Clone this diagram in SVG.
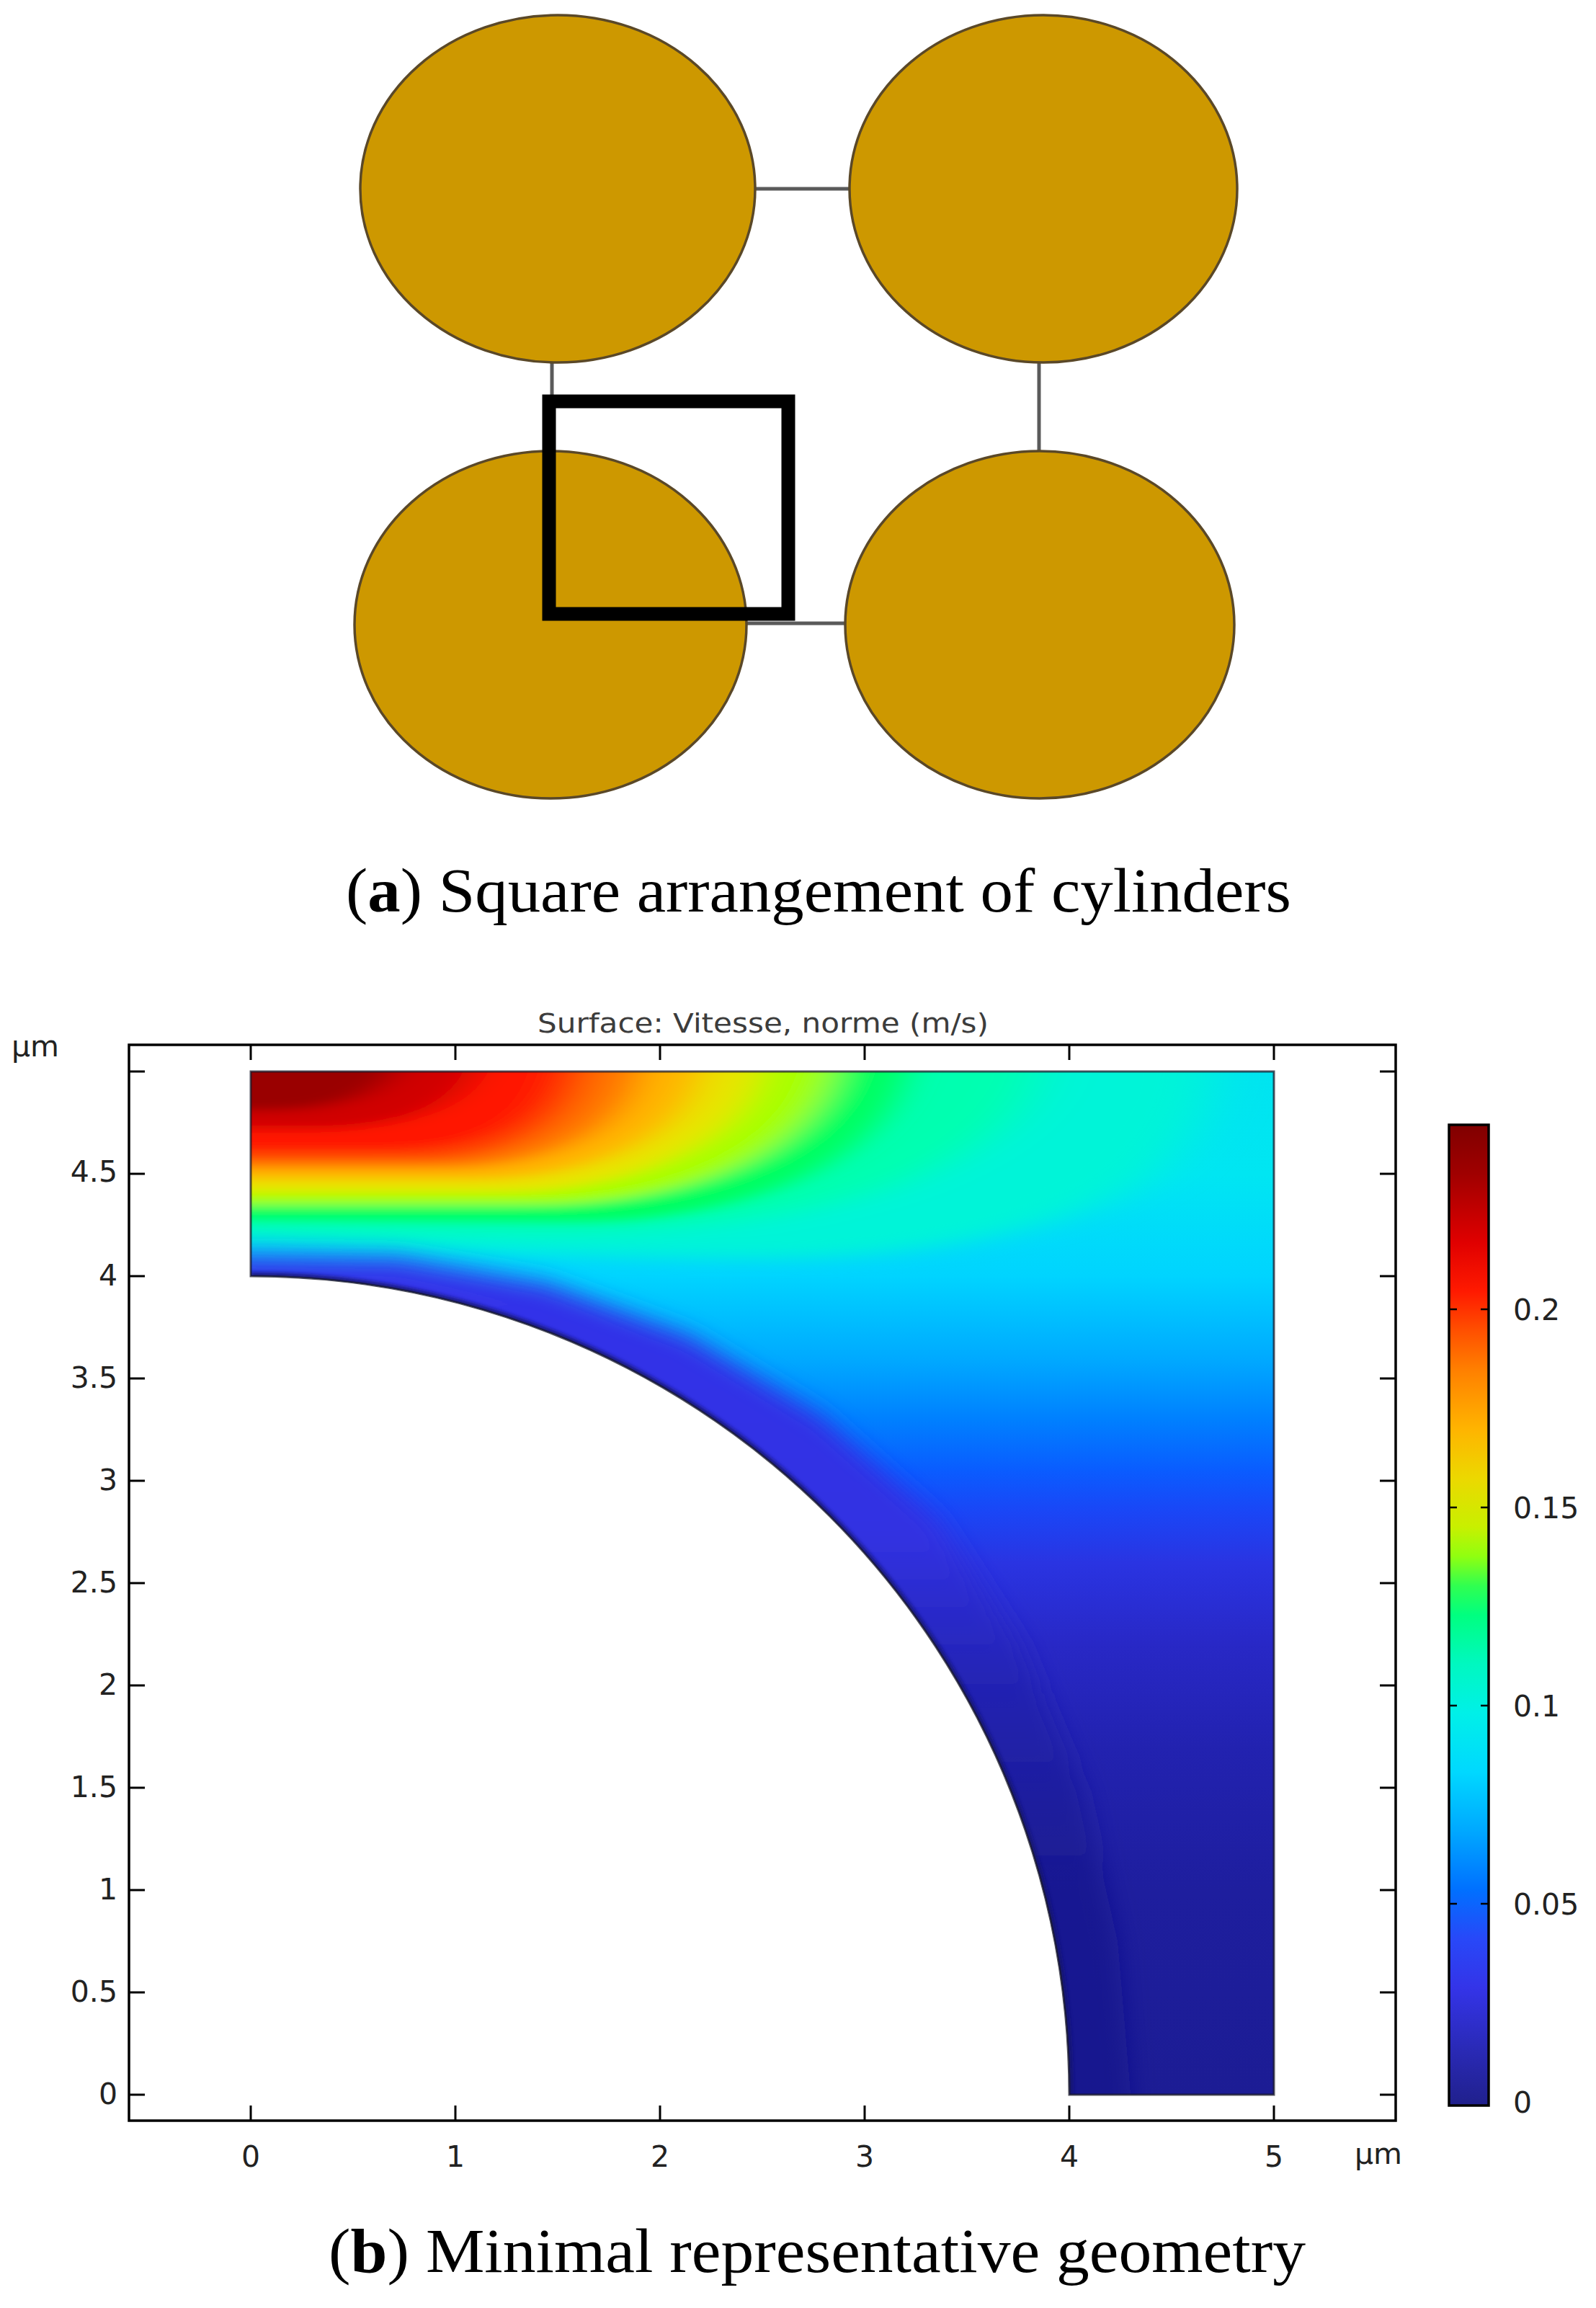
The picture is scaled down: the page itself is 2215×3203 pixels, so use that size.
<svg xmlns="http://www.w3.org/2000/svg" width="2215" height="3203" viewBox="0 0 2215 3203">
<defs>
<style>
.cyl{fill:#cd9800;stroke:#5a4828;stroke-width:3.5}
.link{stroke:#5a5a5a;stroke-width:5;fill:none}
.cap{font-family:"Liberation Serif","Times New Roman",serif;font-size:86px;fill:#000}
.axis{stroke:#000;stroke-width:3.5;fill:none}
.tick{stroke:#000;stroke-width:3;fill:none}
.cbt{stroke:#000;stroke-width:2.5;fill:none}
.lbl{font-family:"DejaVu Sans",Verdana,sans-serif;font-size:41px;fill:#222}
.ttl{font-family:"DejaVu Sans",Verdana,sans-serif;font-size:38px;fill:#3c3c3c}
</style>
<clipPath id="dom"><path d="M348,1487 H1768 V2907 H1484 A1136,1136 0 0 0 348,1771 Z"/></clipPath>
<linearGradient id="base" gradientUnits="userSpaceOnUse" x1="0" y1="1487" x2="0" y2="2907">
<stop offset="0" stop-color="#00e4f0"/>
<stop offset="0.1" stop-color="#00e6f2"/>
<stop offset="0.2" stop-color="#00d4ff"/>
<stop offset="0.28" stop-color="#00aaff"/>
<stop offset="0.34" stop-color="#0080ff"/>
<stop offset="0.39" stop-color="#0a5cff"/>
<stop offset="0.43" stop-color="#1a46f6"/>
<stop offset="0.48" stop-color="#2a34e2"/>
<stop offset="0.56" stop-color="#2828c6"/>
<stop offset="0.66" stop-color="#2222b0"/>
<stop offset="0.8" stop-color="#1e1e9e"/>
<stop offset="1" stop-color="#1c1c94"/>
</linearGradient>
<linearGradient id="wallg" gradientUnits="userSpaceOnUse" x1="0" y1="1750" x2="0" y2="2600">
<stop offset="0" stop-color="#3434ea"/>
<stop offset="0.45" stop-color="#3232e2"/>
<stop offset="0.7" stop-color="#2222b0" stop-opacity="0.85"/>
<stop offset="1" stop-color="#18188a" stop-opacity="0.6"/>
</linearGradient>
<linearGradient id="cbar" gradientUnits="userSpaceOnUse" x1="0" y1="1561" x2="0" y2="2922">
<stop offset="0" stop-color="#800000"/>
<stop offset="0.05" stop-color="#a00000"/>
<stop offset="0.12" stop-color="#e00000"/>
<stop offset="0.17" stop-color="#ff1a00"/>
<stop offset="0.21" stop-color="#ff5000"/>
<stop offset="0.25" stop-color="#ff8000"/>
<stop offset="0.31" stop-color="#ffb400"/>
<stop offset="0.36" stop-color="#ecd800"/>
<stop offset="0.41" stop-color="#c8f000"/>
<stop offset="0.44" stop-color="#90ff10"/>
<stop offset="0.47" stop-color="#30ff50"/>
<stop offset="0.5" stop-color="#00ff80"/>
<stop offset="0.55" stop-color="#00f8c0"/>
<stop offset="0.6" stop-color="#00f0e8"/>
<stop offset="0.66" stop-color="#00d8ff"/>
<stop offset="0.72" stop-color="#00a8ff"/>
<stop offset="0.78" stop-color="#0070ff"/>
<stop offset="0.83" stop-color="#2848f8"/>
<stop offset="0.88" stop-color="#3434e8"/>
<stop offset="0.94" stop-color="#2a2ab8"/>
<stop offset="1" stop-color="#20208c"/>
</linearGradient>
<filter id="bsoft" x="-20%" y="-20%" width="140%" height="140%"><feGaussianBlur stdDeviation="40 12"/></filter>
<filter id="bhot" x="-20%" y="-20%" width="140%" height="140%"><feGaussianBlur stdDeviation="26 7"/></filter>
<filter id="bwall" x="-20%" y="-20%" width="140%" height="140%"><feGaussianBlur stdDeviation="16"/></filter>
<filter id="bline" x="-10%" y="-10%" width="120%" height="120%"><feGaussianBlur stdDeviation="2.5"/></filter>
</defs>
<rect width="2215" height="3203" fill="#fff"/>

<!-- Panel (a) -->
<g id="connectors">
<line class="link" x1="1048" y1="262" x2="1179" y2="262"/>
<line class="link" x1="766" y1="503" x2="766" y2="627"/>
<line class="link" x1="1442" y1="503" x2="1442" y2="627"/>
<line class="link" x1="1036" y1="865" x2="1172" y2="865"/>
</g>
<g id="cyl-tl"><ellipse class="cyl" cx="774" cy="262" rx="274" ry="241"/></g>
<g id="cyl-tr"><ellipse class="cyl" cx="1448" cy="262" rx="269" ry="241"/></g>
<g id="cyl-bl"><ellipse class="cyl" cx="764" cy="867" rx="272" ry="241"/></g>
<g id="cyl-br"><ellipse class="cyl" cx="1443" cy="867" rx="270" ry="241"/></g>
<g id="cell"><rect x="762" y="557" width="332" height="295" fill="none" stroke="#000" stroke-width="19"/></g>
<text class="cap" x="480" y="1265" textLength="1312" lengthAdjust="spacingAndGlyphs">(<tspan font-weight="bold">a</tspan>) Square arrangement of cylinders</text>

<!-- Panel (b) -->
<text class="ttl" x="1059" y="1433" text-anchor="middle" textLength="626" lengthAdjust="spacingAndGlyphs">Surface: Vitesse, norme (m/s)</text>

<g id="field" clip-path="url(#dom)">
<rect x="340" y="1480" width="1440" height="1440" fill="url(#base)"/>
<g filter="url(#bsoft)">
<path fill="#00f4d8" d="M263,1402 L263,1717 C600,1735 900,1750 1120,1745 C1330,1738 1530,1690 1610,1620 C1660,1570 1680,1530 1683,1487 L1690,1402 Z"/>
<path fill="#00ffb0" d="M263,1402 L263,1707 L774,1712 C980,1710 1180,1680 1300,1620 C1380,1580 1425,1540 1441,1487 L1448,1402 Z"/>
</g>
<g filter="url(#bhot)">
<path fill="#00ff60" d="M263,1402 L263,1692 L802,1695 C1020,1694 1220,1620 1257,1487 L1265,1402 Z"/>
<path fill="#a8ff00" d="M263,1402 L263,1672 L746,1672 C930,1671 1120,1610 1157,1487 L1165,1402 Z"/>
<path fill="#e8e400" d="M263,1402 L263,1655 L700,1655 C850,1654 1025,1600 1058,1487 L1065,1402 Z"/>
<path fill="#ffb400" d="M263,1402 L263,1637 L660,1637 C800,1636 945,1590 973,1487 L980,1402 Z"/>
<path fill="#ff7400" d="M263,1402 L263,1621 L620,1621 C740,1620 865,1580 888,1487 L895,1402 Z"/>
<path fill="#ff4000" d="M263,1402 L263,1609 L590,1609 C700,1607 795,1570 817,1487 L824,1402 Z"/>
<path fill="#ff1200" d="M263,1402 L263,1596 L540,1596 C650,1594 750,1570 774,1487 L780,1402 Z"/>
<path fill="#d00000" d="M263,1402 L263,1567 L440,1567 C540,1565 630,1545 660,1487 L667,1402 Z"/>
<path fill="#9a0000" d="M263,1402 L263,1541 L380,1541 C450,1540 520,1525 547,1487 L554,1402 Z"/>
</g>
<path filter="url(#bwall)" fill="url(#wallg)" d="M263,2990 L263,1743 L348,1743 L553,1746 L758,1781 L956,1854 L1139,1965 L1299,2109 L1420,2288 L1504,2486 L1551,2695 L1569,2907 L1569,2990 Z"/>
<path filter="url(#bline)" fill="none" stroke="#12126a" stroke-width="10" opacity="0.85" d="M1484,2907 A1136,1136 0 0 0 348,1771"/>
</g>
<path fill="none" stroke="#1a1a2a" stroke-width="3" opacity="0.75" d="M348,1487 H1768 V2907 H1484 A1136,1136 0 0 0 348,1771 Z"/>

<!-- axes -->
<rect class="axis" x="179" y="1450" width="1758" height="1493"/>
<g class="tick">
<path d="M179,1487 h22 M179,1629 h22 M179,1771 h22 M179,1913 h22 M179,2055 h22 M179,2197 h22 M179,2339 h22 M179,2481 h22 M179,2623 h22 M179,2765 h22 M179,2907 h22"/>
<path d="M1937,1487 h-22 M1937,1629 h-22 M1937,1771 h-22 M1937,1913 h-22 M1937,2055 h-22 M1937,2197 h-22 M1937,2339 h-22 M1937,2481 h-22 M1937,2623 h-22 M1937,2765 h-22 M1937,2907 h-22"/>
<path d="M348,1450 v21 M632,1450 v21 M916,1450 v21 M1200,1450 v21 M1484,1450 v21 M1768,1450 v21"/>
<path d="M348,2943 v-21 M632,2943 v-21 M916,2943 v-21 M1200,2943 v-21 M1484,2943 v-21 M1768,2943 v-21"/>
</g>
<g class="lbl" text-anchor="end">
<text x="163" y="1640">4.5</text>
<text x="163" y="1784">4</text>
<text x="163" y="1926">3.5</text>
<text x="163" y="2068">3</text>
<text x="163" y="2210">2.5</text>
<text x="163" y="2352">2</text>
<text x="163" y="2494">1.5</text>
<text x="163" y="2636">1</text>
<text x="163" y="2778">0.5</text>
<text x="163" y="2920">0</text>
</g>
<g class="lbl" text-anchor="middle">
<text x="348" y="3007">0</text>
<text x="632" y="3007">1</text>
<text x="916" y="3007">2</text>
<text x="1200" y="3007">3</text>
<text x="1484" y="3007">4</text>
<text x="1768" y="3007">5</text>
</g>
<text class="lbl" x="16" y="1466" font-size="38">µm</text>
<text class="lbl" x="1880" y="3003" font-size="38">µm</text>

<!-- colorbar -->
<rect x="2011" y="1561" width="55" height="1361" fill="url(#cbar)" stroke="#000" stroke-width="3.5"/>
<g class="cbt">
<path d="M2011,1817 h11 M2066,1817 h-11 M2011,2092 h11 M2066,2092 h-11 M2011,2367 h11 M2066,2367 h-11 M2011,2642 h11 M2066,2642 h-11"/>
</g>
<g class="lbl">
<text x="2100" y="1832">0.2</text>
<text x="2100" y="2107">0.15</text>
<text x="2100" y="2382">0.1</text>
<text x="2100" y="2657">0.05</text>
<text x="2100" y="2932">0</text>
</g>

<text class="cap" x="456" y="3153" textLength="1356" lengthAdjust="spacingAndGlyphs">(<tspan font-weight="bold">b</tspan>) Minimal representative geometry</text>
</svg>
